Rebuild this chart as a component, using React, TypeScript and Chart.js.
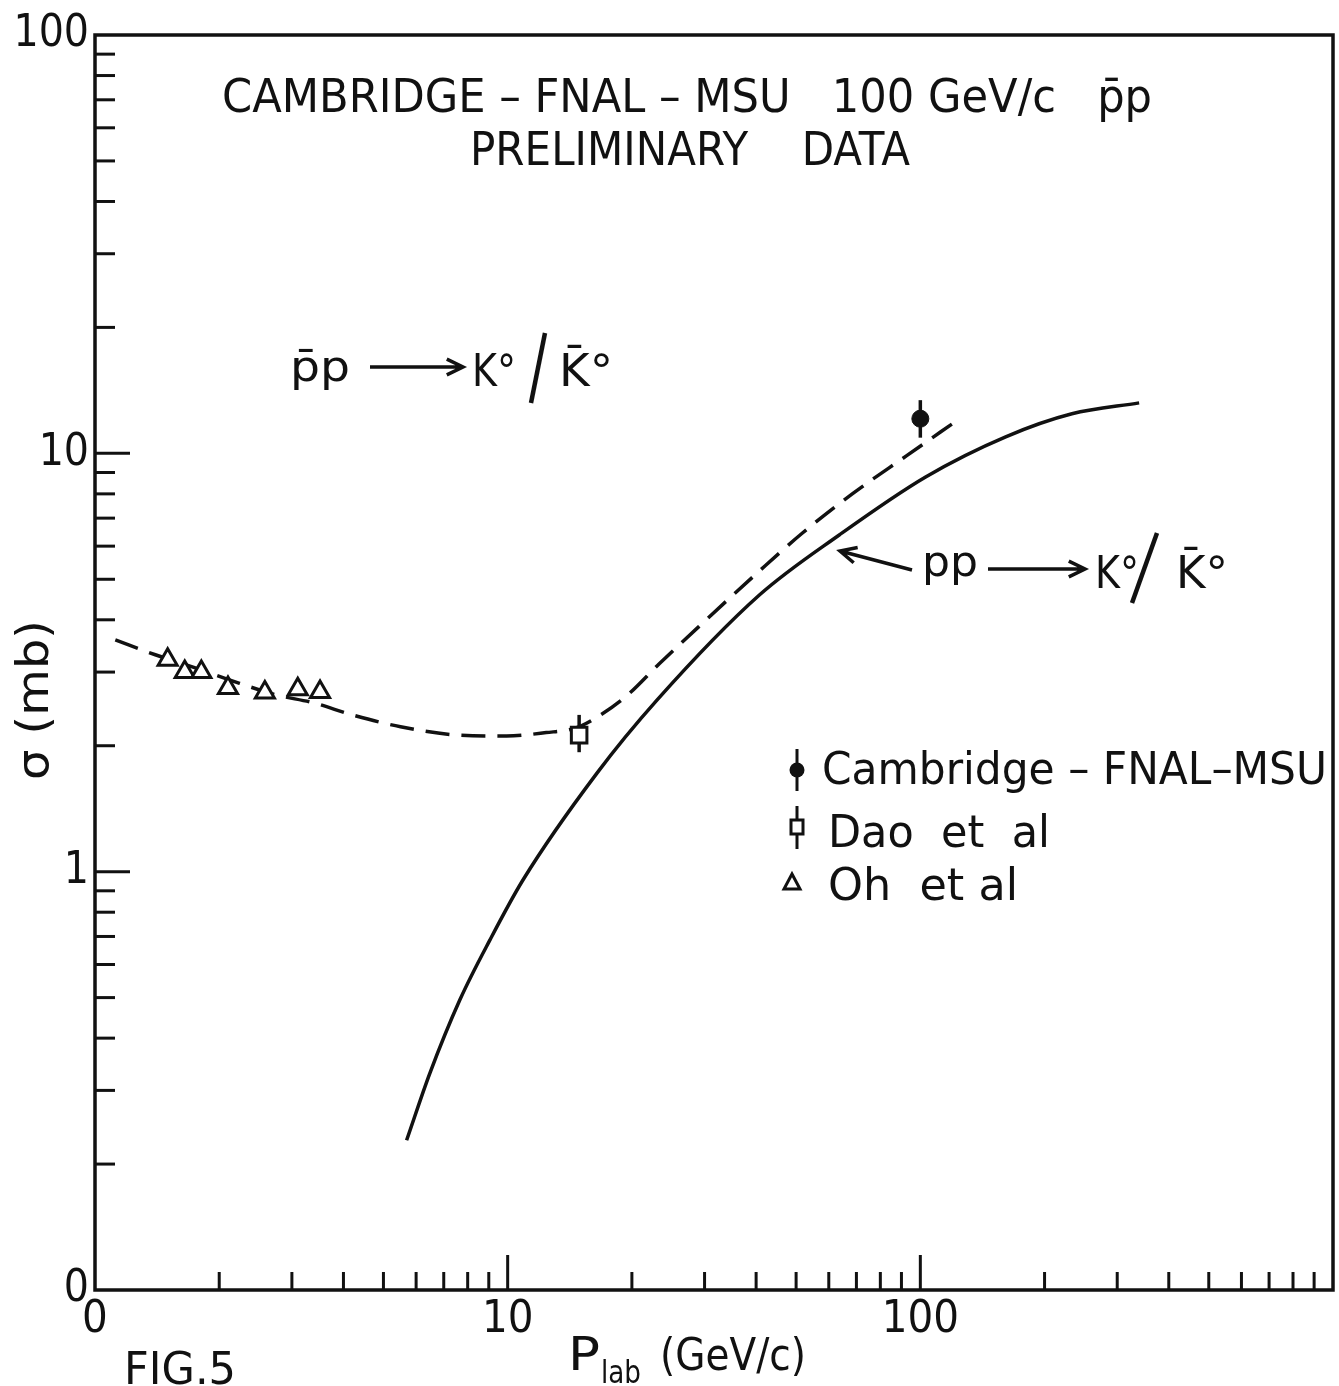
import React, { useEffect, useRef } from "react";
import { Chart, registerables } from "chart.js";

Chart.register(...registerables);

// ---- Data ----
const ohMomentum = [1.5, 1.65, 1.81, 2.1, 2.58, 3.1, 3.51];
const ohSigma = [3.21, 3.0, 3.0, 2.75, 2.68, 2.73, 2.69];

const daoMomentum = [14.9];
const daoSigma = [2.12];
const daoSigmaLow = [1.93];
const daoSigmaHigh = [2.37];

const cfmMomentum = [100];
const cfmSigma = [12.1];
const cfmSigmaLow = [10.9];
const cfmSigmaHigh = [13.4];

const pbarpCurveMomentum = [1.12, 1.4, 1.75, 2.24, 2.73, 3.4, 4.2, 5.5, 7.65, 9.94, 12.4, 14.5, 16.1, 19.4, 23.3, 29.2, 40.8, 51.8, 68.4, 92.5, 123];
const pbarpCurveSigma = [3.58, 3.3, 3.07, 2.82, 2.65, 2.53, 2.37, 2.22, 2.12, 2.11, 2.15, 2.2, 2.31, 2.63, 3.14, 3.87, 5.24, 6.45, 8.0, 9.86, 12.0];

const ppCurveMomentum = [5.69, 6.48, 7.66, 9.06, 10.89, 16.46, 23.0, 40.8, 63.6, 103, 161, 233, 339];
const ppCurveSigma = [0.228, 0.33, 0.494, 0.687, 0.955, 1.72, 2.57, 4.59, 6.38, 8.78, 10.95, 12.43, 13.2];

const xTickValues = [1, 2, 3, 4, 5, 6, 7, 8, 9, 10, 20, 30, 40, 50, 60, 70, 80, 90, 100, 200, 300, 400, 500, 600, 700, 800, 900, 1000];
const xLabeledTicks = [1, 10, 100];
const xTickLabels = ["0", "10", "100"];

const yTickValues = [0.1, 0.2, 0.3, 0.4, 0.5, 0.6, 0.7, 0.8, 0.9, 1, 2, 3, 4, 5, 6, 7, 8, 9, 10, 20, 30, 40, 50, 60, 70, 80, 90, 100];
const yLabeledTicks = [0.1, 1, 10, 100];
const yTickLabels = ["0", "1", "10", "100"];

const titleLine1 = "CAMBRIDGE – FNAL – MSU   100 GeV/c   p\u0304p";
const titleLine2 = "PRELIMINARY    DATA";
const legendLabels = ["Cambridge – FNAL–MSU", "Dao  et  al", "Oh  et al"];

// ---- Styling ----
const FONT = "'DejaVu Sans', 'Liberation Sans', sans-serif";
const TICK_FONT = "'DejaVu Sans Condensed', 'Liberation Sans Narrow', 'DejaVu Sans', sans-serif";
const INK = "#111";

function findIndex(list: number[], v: number) {
  return list.findIndex((t) => Math.abs(t - v) / t < 1e-6);
}

function drawFitText(ctx: CanvasRenderingContext2D, text: string, x: number, baseline: number, size: number, width?: number) {
  ctx.save();
  ctx.font = `${size}px ${FONT}`;
  ctx.textAlign = "left";
  ctx.textBaseline = "alphabetic";
  ctx.fillStyle = INK;
  const w = ctx.measureText(text).width;
  const sx = width ? width / w : 1;
  ctx.translate(x, baseline);
  ctx.scale(sx, 1);
  ctx.fillText(text, 0, 0);
  ctx.restore();
}

function drawArrow(ctx: CanvasRenderingContext2D, x1: number, y1: number, x2: number, y2: number) {
  const ang = Math.atan2(y2 - y1, x2 - x1);
  const head = 18;
  ctx.beginPath();
  ctx.moveTo(x1, y1);
  ctx.lineTo(x2, y2);
  ctx.moveTo(x2 - head * Math.cos(ang - 0.45), y2 - head * Math.sin(ang - 0.45));
  ctx.lineTo(x2, y2);
  ctx.lineTo(x2 - head * Math.cos(ang + 0.45), y2 - head * Math.sin(ang + 0.45));
  ctx.stroke();
}

function line(ctx: CanvasRenderingContext2D, x1: number, y1: number, x2: number, y2: number) {
  ctx.beginPath();
  ctx.moveTo(x1, y1);
  ctx.lineTo(x2, y2);
  ctx.stroke();
}

const errorBarPlugin = {
  id: "errorBars",
  beforeDatasetsDraw(chart: any) {
    const { ctx, scales } = chart;
    const { x, y } = scales;
    ctx.save();
    ctx.strokeStyle = INK;
    ctx.lineWidth = 3.5;
    const bars = [
      [daoMomentum, daoSigmaLow, daoSigmaHigh],
      [cfmMomentum, cfmSigmaLow, cfmSigmaHigh],
    ];
    bars.forEach(([ps, lo, hi]) => {
      ps.forEach((p, i) => {
        const px = x.getPixelForValue(p);
        line(ctx, px, y.getPixelForValue(lo[i]), px, y.getPixelForValue(hi[i]));
      });
    });
    ctx.restore();
  },
};

const framePlugin = {
  id: "frameAndNotes",
  afterDraw(chart: any) {
    const { ctx, chartArea: a, scales } = chart;
    const { x, y } = scales;
    ctx.save();
    ctx.strokeStyle = INK;
    ctx.fillStyle = INK;
    ctx.lineCap = "butt";
    // frame
    ctx.lineWidth = 3.5;
    ctx.strokeRect(a.left, a.top, a.right - a.left, a.bottom - a.top);
    // inward ticks
    ctx.lineWidth = 3;
    x.ticks.forEach((t: any) => {
      if (t.value <= 1 || t.value >= 1000) return;
      const px = x.getPixelForValue(t.value);
      const len = findIndex(xLabeledTicks, t.value) >= 0 ? 35 : 18;
      line(ctx, px, a.bottom, px, a.bottom - len);
    });
    y.ticks.forEach((t: any) => {
      if (t.value <= 0.1 || t.value >= 100) return;
      const py = y.getPixelForValue(t.value);
      const len = findIndex(yLabeledTicks, t.value) >= 0 ? 35 : 20;
      line(ctx, a.left, py, a.left + len, py);
    });

    // titles
    drawFitText(ctx, titleLine1, 222, 112, 46, 930);
    drawFitText(ctx, titleLine2, 470, 165, 46, 440);

    // p̄p → K°/K̄° annotation
    ctx.lineWidth = 3.5;
    drawFitText(ctx, "p\u0304p", 290, 381, 42, 60);
    drawArrow(ctx, 370, 367, 463, 367);
    drawFitText(ctx, "K°", 472, 386, 44, 44);
    ctx.lineWidth = 4.5;
    line(ctx, 545, 333, 531, 403);
    drawFitText(ctx, "K\u0304°", 559, 386, 44, 54);

    // pp → K°/K̄° annotation
    ctx.lineWidth = 3.5;
    drawArrow(ctx, 912, 570, 840, 551);
    drawFitText(ctx, "pp", 922, 576, 42, 56);
    drawArrow(ctx, 988, 569, 1085, 569);
    drawFitText(ctx, "K°", 1095, 588, 44, 44);
    ctx.lineWidth = 4.5;
    line(ctx, 1157, 533, 1132, 603);
    drawFitText(ctx, "K\u0304°", 1176, 588, 44, 52);

    // legend
    ctx.lineWidth = 3;
    line(ctx, 797, 749, 797, 791);
    ctx.beginPath();
    ctx.arc(797, 770, 7.5, 0, Math.PI * 2);
    ctx.fill();
    drawFitText(ctx, legendLabels[0], 822, 784, 45, 505);

    line(ctx, 797, 806, 797, 849);
    ctx.fillStyle = "#fff";
    ctx.fillRect(791, 820, 12, 14);
    ctx.strokeRect(791, 820, 12, 14);
    ctx.fillStyle = INK;
    drawFitText(ctx, legendLabels[1], 828, 847, 45, 222);

    ctx.beginPath();
    ctx.moveTo(792, 874);
    ctx.lineTo(800, 889);
    ctx.lineTo(784, 889);
    ctx.closePath();
    ctx.stroke();
    drawFitText(ctx, legendLabels[2], 828, 900, 45, 190);

    // axis titles
    ctx.save();
    ctx.translate(48, 700);
    ctx.rotate(-Math.PI / 2);
    drawFitText(ctx, "σ (mb)", -80, 0, 44, 160);
    ctx.restore();

    drawFitText(ctx, "P", 568, 1370, 46, 32);
    drawFitText(ctx, "lab", 601, 1383, 32, 40);
    drawFitText(ctx, "(GeV/c)", 660, 1370, 44, 146);

    drawFitText(ctx, "FIG.5", 124, 1384, 44, 112);
    ctx.restore();
  },
};

export default function App() {
  const ref = useRef<HTMLCanvasElement | null>(null);

  useEffect(() => {
    if (!ref.current) return;
    const toXY = (xs: number[], ys: number[]) => xs.map((v, i) => ({ x: v, y: ys[i] }));
    const chart = new Chart(ref.current, {
      type: "line",
      data: {
        datasets: [
          {
            label: "Cambridge – FNAL–MSU",
            data: toXY(cfmMomentum, cfmSigma),
            showLine: false,
            pointStyle: "circle",
            pointRadius: 8.5,
            pointBackgroundColor: INK,
            pointBorderColor: INK,
            pointBorderWidth: 1,
          },
          {
            label: "Dao et al",
            data: toXY(daoMomentum, daoSigma),
            showLine: false,
            pointStyle: "rect",
            pointRadius: 11,
            pointBackgroundColor: "#fff",
            pointBorderColor: INK,
            pointBorderWidth: 3,
          },
          {
            label: "Oh et al",
            data: toXY(ohMomentum, ohSigma),
            showLine: false,
            pointStyle: "triangle",
            pointRadius: 11,
            pointBackgroundColor: "#fff",
            pointBorderColor: INK,
            pointBorderWidth: 3,
          },
          {
            label: "pbar p -> K0",
            data: toXY(pbarpCurveMomentum, pbarpCurveSigma),
            borderColor: INK,
            borderWidth: 3.5,
            borderDash: [24, 12],
            pointRadius: 0,
            cubicInterpolationMode: "monotone",
            fill: false,
          },
          {
            label: "pp -> K0",
            data: toXY(ppCurveMomentum, ppCurveSigma),
            borderColor: INK,
            borderWidth: 3.5,
            pointRadius: 0,
            cubicInterpolationMode: "monotone",
            fill: false,
          },
        ],
      },
      options: {
        animation: false,
        responsive: false,
        devicePixelRatio: 1,
        layout: { padding: { top: 35, right: 0, left: 0, bottom: 0 } },
        plugins: { legend: { display: false }, tooltip: { enabled: false } },
        scales: {
          x: {
            type: "logarithmic",
            min: 1,
            max: 1000,
            grid: { display: false, drawTicks: false },
            border: { display: false },
            afterBuildTicks: (scale: any) => {
              scale.ticks = xTickValues.map((v) => ({ value: v, major: findIndex(xLabeledTicks, v) >= 0 }));
            },
            afterFit: (scale: any) => {
              scale.height = 96;
            },
            ticks: {
              autoSkip: false,
              maxRotation: 0,
              minRotation: 0,
              padding: 3,
              color: INK,
              font: { family: TICK_FONT, size: 45 },
              callback: (v: any) => {
                const i = findIndex(xLabeledTicks, Number(v));
                return i >= 0 ? xTickLabels[i] : "";
              },
            },
          },
          y: {
            type: "logarithmic",
            min: 0.1,
            max: 100,
            grid: { display: false, drawTicks: false },
            border: { display: false },
            afterBuildTicks: (scale: any) => {
              scale.ticks = yTickValues.map((v) => ({ value: v, major: findIndex(yLabeledTicks, v) >= 0 }));
            },
            afterFit: (scale: any) => {
              scale.width = 95;
            },
            ticks: {
              autoSkip: false,
              padding: 6,
              color: INK,
              font: { family: TICK_FONT, size: 44 },
              callback: (v: any) => {
                const i = findIndex(yLabeledTicks, Number(v));
                return i >= 0 ? yTickLabels[i] : "";
              },
            },
          },
        },
      },
      plugins: [errorBarPlugin, framePlugin],
    } as any);
    return () => chart.destroy();
  }, []);

  return (
    <div style={{ position: "absolute", left: 0, top: 0, width: 1339, height: 1386, overflow: "hidden", background: "#fff" }}>
      <canvas ref={ref} width={1347} height={1386} style={{ display: "block" }} />
    </div>
  );
}
